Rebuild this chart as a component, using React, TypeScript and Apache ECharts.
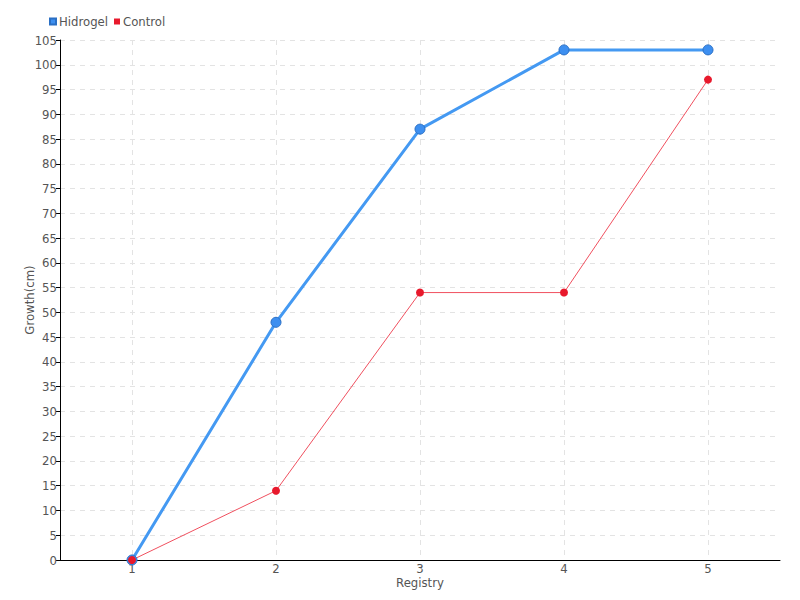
import React, { useEffect, useRef } from "react";
import * as echarts from "echarts";

const categories = ["1", "2", "3", "4", "5"];
const hidrogel = [0, 48, 87, 103, 103];
const control = [0, 14, 54, 54, 97];
const seriesNames = ["Hidrogel", "Control"];

const FONT = "DejaVu Sans Condensed";

export default function App() {
  const ref = useRef<HTMLDivElement>(null);
  useEffect(() => {
    const chart = echarts.init(ref.current!, null, { renderer: "svg" });
    chart.setOption({
      animation: false,
      textStyle: { fontFamily: FONT },
      legend: {
        left: 44,
        top: 10,
        itemWidth: 6,
        itemHeight: 6,
        itemGap: 6,
        icon: "rect",
        textStyle: { fontFamily: FONT, fontSize: 13, color: "#555", padding: [0, 0, 0, -2] },
        data: seriesNames,
      },
      grid: { left: 60, right: 20, top: 40, bottom: 40 },
      xAxis: {
        type: "category",
        data: categories,
        boundaryGap: true,
        name: "Registry",
        nameLocation: "middle",
        nameGap: 16,
        nameMoveOverlap: false,
        nameTextStyle: { color: "#555", fontSize: 13, fontFamily: FONT },
        axisLine: { lineStyle: { color: "#000" } },
        axisTick: { alignWithLabel: true, length: 5, lineStyle: { color: "#555" } },
        axisLabel: { color: "#555", fontSize: 13, margin: 2, fontFamily: FONT },
        splitLine: { show: true, alignWithLabel: true, lineStyle: { color: "#e3e3e3", type: [5, 5] } },
      },
      yAxis: {
        type: "value",
        min: 0,
        max: 105,
        interval: 5,
        name: "Growth(cm)",
        nameLocation: "middle",
        nameGap: 24,
        nameMoveOverlap: false,
        nameTextStyle: { color: "#555", fontSize: 13, fontFamily: FONT },
        axisLine: { show: true, lineStyle: { color: "#000" } },
        axisTick: { show: true, length: 4, lineStyle: { color: "#000" } },
        axisLabel: { color: "#555", fontSize: 13, margin: 3, fontFamily: FONT },
        splitLine: { show: true, lineStyle: { color: "#e3e3e3", type: [5, 5] } },
      },
      series: [
        {
          name: seriesNames[0],
          type: "line",
          data: hidrogel,
          symbol: "circle",
          symbolSize: 10,
          lineStyle: { width: 3, color: "#4499f2" },
          itemStyle: { color: "#3d8ff0", borderColor: "#2a6fc4", borderWidth: 1 },
        },
        {
          name: seriesNames[1],
          type: "line",
          data: control,
          symbol: "circle",
          symbolSize: 8,
          lineStyle: { width: 1, color: "#f0505f" },
          itemStyle: { color: "#e8192c" },
        },
      ],
    });
    return () => chart.dispose();
  }, []);
  return <div ref={ref} style={{ width: 800, height: 600, position: "absolute", left: 0, top: 0 }} />;
}
